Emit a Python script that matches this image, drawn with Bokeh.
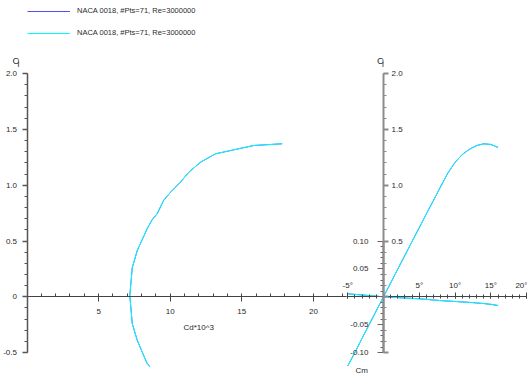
from bokeh.plotting import figure
from bokeh.models import (Range1d, LinearAxis, SingleIntervalTicker, CustomJSTickFormatter,
                          Label, Legend, LegendItem)
from bokeh.embed import file_html
from bokeh.resources import INLINE

# ---------------- data ----------------
series_labels = ["NACA 0018, #Pts=71, Re=3000000", "NACA 0018, #Pts=71, Re=3000000"]

# drag polar: Cd*10^3 vs Cl
polar_cd = [8.60, 8.39, 7.70, 7.35, 7.18, 7.35, 7.70, 8.39, 8.74, 9.09, 9.55, 10.08,
            10.72, 11.30, 12.12, 13.16, 14.44, 15.84, 17.82]
polar_cl = [-0.625, -0.60, -0.39, -0.24, 0.01, 0.26, 0.415, 0.61, 0.69, 0.744, 0.866, 0.945,
            1.027, 1.116, 1.206, 1.281, 1.317, 1.356, 1.371]

# lift and moment vs angle of attack (degrees)
alpha = [-5, -4, -3, -2, -1, 0, 1, 2, 3, 4, 5, 6, 7, 8, 9, 10, 11, 12, 13, 14, 15, 16]
cl_alpha = [-0.62, -0.50, -0.373, -0.249, -0.124, 0.0, 0.124, 0.249, 0.373, 0.497, 0.62,
            0.745, 0.866, 0.99, 1.11, 1.205, 1.275, 1.322, 1.355, 1.371, 1.365, 1.338]
cm_alpha = [0.0054, 0.0043, 0.0032, 0.0022, 0.0011, 0.0, -0.0008, -0.0015, -0.0022, -0.0029,
            -0.0036, -0.0046, -0.0058, -0.0068, -0.0076, -0.0084, -0.0092, -0.0100, -0.0110,
            -0.0121, -0.0135, -0.0156]

cl_ticks_interval = 0.5
cm_ticks_interval = 0.05
cd_ticks_interval = 5
alpha_ticks_interval = 5

# ---------------- layout ----------------
W, H = 527, 373
OX_CD, PX_CD = 26.5, 14.32     # canvas px of Cd=0, px per unit
OX_A, PX_A = 383.0, 7.16       # canvas px of alpha=0, px per degree
OY, PY_CL, PY_CM = 296.3, 111.6, 558.0

BLUE = "#5050f5"
CYAN = "#00ffff"
FONT = "Liberation Sans"
TXT = "#2a2a2a"

p = figure(width=W, height=H, output_backend="svg", toolbar_location=None,
           x_axis_location=None, y_axis_location=None, min_border=0,
           x_range=Range1d(-OX_CD / PX_CD, (W - OX_CD) / PX_CD),
           y_range=Range1d(-(H - OY) / PY_CL, OY / PY_CL))
p.extra_x_ranges = {"alpha": Range1d(-OX_A / PX_A, (W - OX_A) / PX_A)}
p.extra_y_ranges = {"cm": Range1d(-(H - OY) / PY_CM, OY / PY_CM)}
p.outline_line_color = None
p.grid.visible = False
p.background_fill_color = "white"
p.border_fill_color = "white"


def style(ax, color, width):
    ax.axis_line_color = color
    ax.axis_line_width = width
    ax.major_tick_line_color = color
    ax.minor_tick_line_color = color
    ax.major_tick_line_width = width
    ax.minor_tick_line_width = 1
    ax.major_label_text_font = FONT
    ax.major_label_text_font_size = "8px"
    ax.major_label_text_color = TXT


def fmt(code):
    return CustomJSTickFormatter(code=code)


# left Cl axis
ax_cl = LinearAxis(fixed_location=0, bounds=(-0.5, 2.0),
                   ticker=SingleIntervalTicker(interval=cl_ticks_interval, num_minor_ticks=5),
                   formatter=fmt("return Math.abs(tick) < 1e-9 ? '0' : tick.toFixed(1)"),
                   major_tick_out=5, major_tick_in=0, minor_tick_out=3, minor_tick_in=0,
                   major_label_standoff=5)
style(ax_cl, "#555555", 1.5)
p.add_layout(ax_cl, "left")

# Cd*10^3 axis
ax_cd = LinearAxis(fixed_location=0, bounds=(0, 22.3),
                   ticker=SingleIntervalTicker(interval=cd_ticks_interval, num_minor_ticks=5),
                   formatter=fmt("return Math.abs(tick) < 1e-9 ? '' : tick.toFixed(0)"),
                   major_tick_out=5, major_tick_in=0, minor_tick_out=0, minor_tick_in=3,
                   major_label_standoff=7)
style(ax_cd, "#444444", 1)
p.add_layout(ax_cd, "below")

# right Cl axis
ax_cl2 = LinearAxis(x_range_name="alpha", fixed_location=0, bounds=(-0.5, 2.0),
                    ticker=SingleIntervalTicker(interval=cl_ticks_interval, num_minor_ticks=5),
                    formatter=fmt("return tick > 1e-9 ? tick.toFixed(1) : ''"),
                    major_tick_out=5, major_tick_in=0, minor_tick_out=3, minor_tick_in=0,
                    major_label_standoff=3)
style(ax_cl2, "#8c8c8c", 2)
p.add_layout(ax_cl2, "right")

# Cm axis
ax_cm = LinearAxis(x_range_name="alpha", y_range_name="cm", fixed_location=0, bounds=(-0.1, 0.1),
                   ticker=SingleIntervalTicker(interval=cm_ticks_interval, num_minor_ticks=5),
                   formatter=fmt("return Math.abs(tick) < 1e-9 ? '' : tick.toFixed(2)"),
                   major_tick_out=6, major_tick_in=0, minor_tick_out=3, minor_tick_in=0,
                   major_label_standoff=9)
style(ax_cm, "#666666", 1)
ax_cm.axis_line_color = "#8c8c8c"
ax_cm.axis_line_width = 2
p.add_layout(ax_cm, "left")

# alpha axis
ax_a = LinearAxis(x_range_name="alpha", fixed_location=0, bounds=(-5.2, 20),
                  ticker=SingleIntervalTicker(interval=alpha_ticks_interval, num_minor_ticks=5),
                  formatter=fmt("return Math.abs(tick) < 1e-9 ? '' : tick.toFixed(0) + '\u00b0'"),
                  major_tick_out=4, major_tick_in=2, minor_tick_out=2, minor_tick_in=2,
                  major_label_standoff=3)
style(ax_a, "#444444", 1)
p.add_layout(ax_a, "above")

# ---------------- curves ----------------
rb = p.line(polar_cd, polar_cl, line_color=BLUE, line_width=1)
p.line(alpha, cl_alpha, x_range_name="alpha", line_color=BLUE, line_width=1)
p.line(alpha, cm_alpha, x_range_name="alpha", y_range_name="cm", line_color=BLUE, line_width=1)

rc = p.line(polar_cd, polar_cl, line_color=CYAN, line_width=1)
p.line(alpha, cl_alpha, x_range_name="alpha", line_color=CYAN, line_width=1)
p.line(alpha, cm_alpha, x_range_name="alpha", y_range_name="cm", line_color=CYAN, line_width=1)

# ---------------- legend ----------------
legend = Legend(items=[LegendItem(label=series_labels[0], renderers=[rb]),
                       LegendItem(label=series_labels[1], renderers=[rc])],
                location=(27, 330.5), orientation="vertical",
                glyph_width=43, glyph_height=20, label_height=20, spacing=2,
                label_standoff=7, padding=0, margin=0,
                border_line_color=None, background_fill_alpha=0,
                label_text_font=FONT, label_text_font_size="7.5px", label_text_color=TXT)
p.add_layout(legend)


# ---------------- axis titles ----------------
def lab(text, px, py, size="9px", align="left"):
    # px, py: canvas position of the text baseline, from the top-left corner
    p.add_layout(Label(x=px, y=H - py, x_units="screen", y_units="screen", text=text,
                       text_font=FONT, text_font_size=size, text_color=TXT,
                       text_align=align, text_baseline="alphabetic"))


lab("C", 12, 59.5, "9.5px")
lab("l", 17, 63, "8.5px")
lab("C", 376.5, 60, "9.5px")
lab("l", 381.5, 63.5, "8.5px")
lab("Cd*10^3", 183, 326.5, "8px")
lab("Cm", 355, 369.5, "8px")

open("out.html", "w").write(file_html(p, INLINE))
